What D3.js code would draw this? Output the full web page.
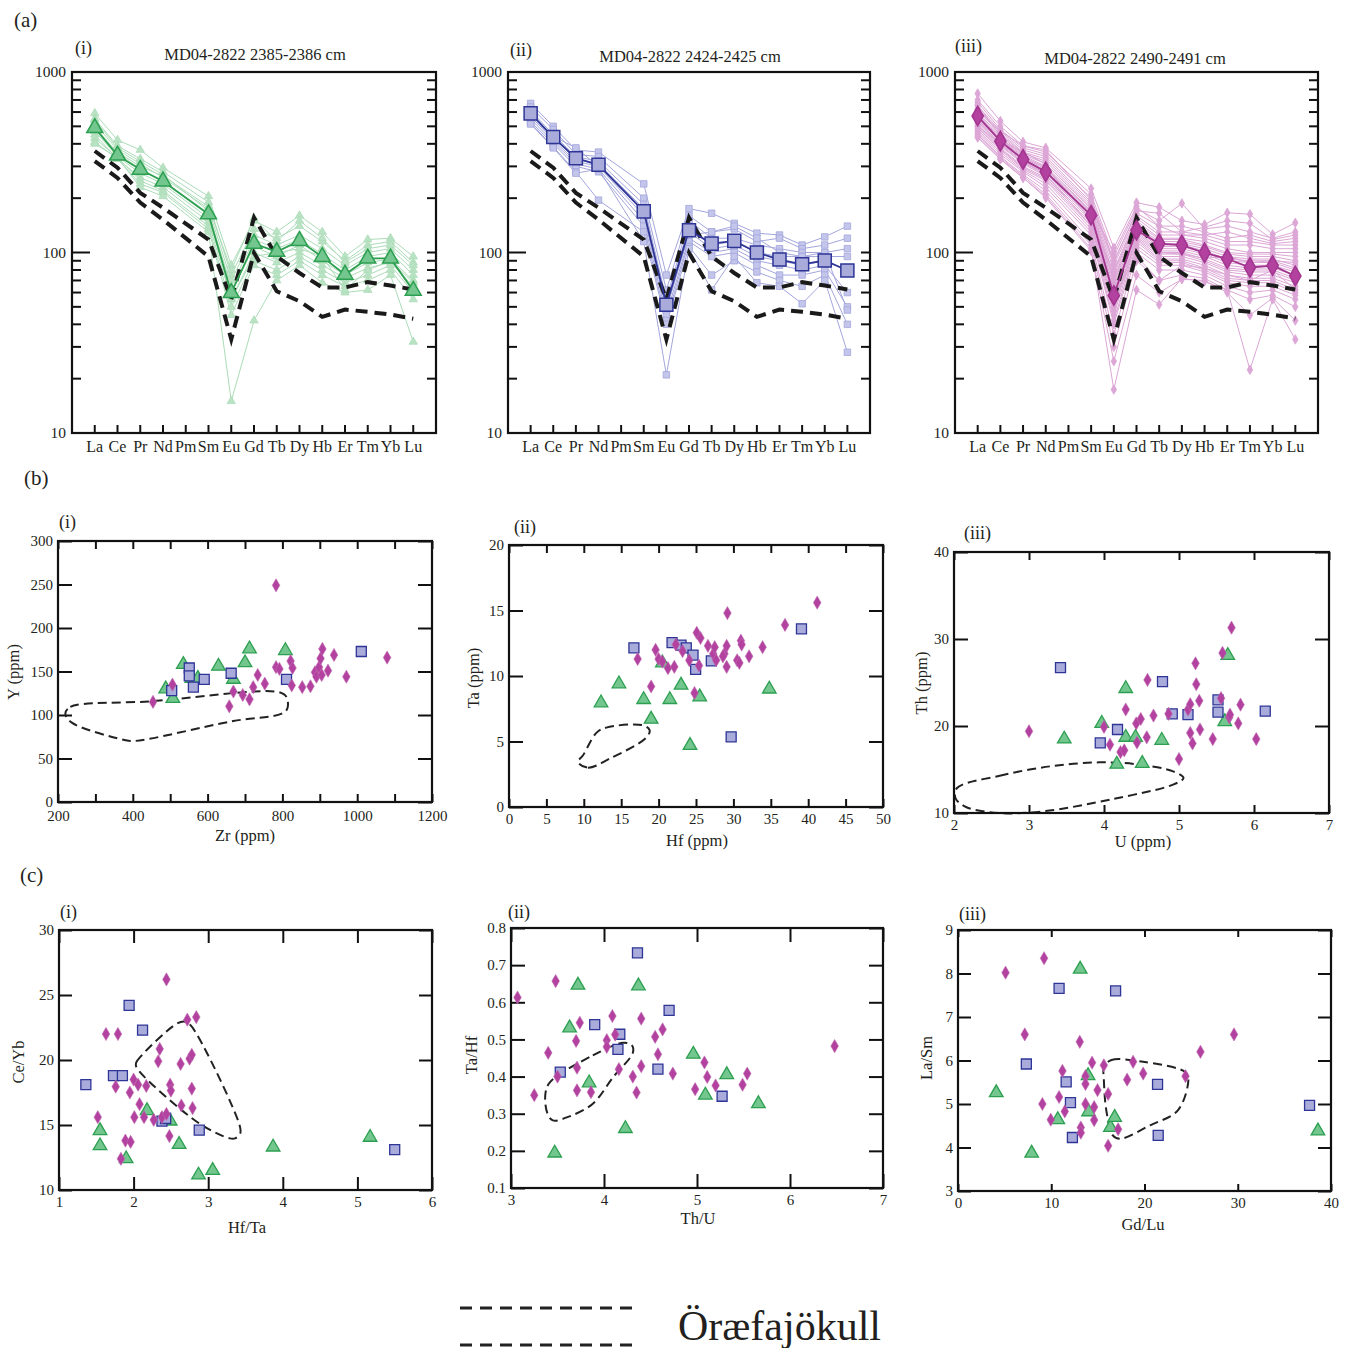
<!DOCTYPE html>
<html>
<head>
<meta charset="utf-8">
<script src="https://cdn.jsdelivr.net/npm/d3@7"></script>
<style>
  body { margin: 0; background: #fff; }
  svg text { font-family: "Liberation Serif", "DejaVu Serif", serif; fill: #231f20; }
</style>
</head>
<body>
<svg id="fig" width="1349" height="1348"></svg>
<script>
// ---------- data ----------
var REE = ["La","Ce","Pr","Nd","Pm","Sm","Eu","Gd","Tb","Dy","Hb","Er","Tm","Yb","Lu"];

// Öræfajökull envelope (chondrite normalised)
var oraeUpper = [365,295,214,177,null,118,55,156,95,77,64,64,68.5,65.6,62.4];
var oraeLower = [321,259,189,152,null,95,33,99.6,61,53.7,44,48.3,46.9,45.3,43];

// (a)(i) MD04-2822 2385-2386 cm
var greenMean = [490,345,288,248,null,163,59.7,112,101,116,94.6,75.5,92.7,92.7,61.5];
var greenShards = [
  [590,420,370,295,null,205,85,150,130,160,130,95,118,120,95],
  [550,390,330,280,null,190,75,135,120,140,115,90,110,115,88],
  [520,370,310,260,null,175,70,125,110,125,105,85,100,105,80],
  [500,355,290,250,null,165,65,118,105,118,98,80,95,100,75],
  [470,340,275,240,null,155,60,108,95,110,90,75,88,92,70],
  [450,330,260,230,null,148,55,100,88,100,85,72,82,88,65],
  [430,335,250,220,null,140,50,90,80,95,80,68,75,85,60],
  [410,330,240,215,null,135,45,85,75,90,75,65,70,80,55],
  [400,335,230,205,null,130,15,42,70,85,68,60,62,75,32],
  [480,360,300,265,null,180,80,155,115,150,120,88,105,110,85],
  [540,380,320,270,null,170,55,95,100,105,95,62,80,90,68]
];

// (a)(ii) MD04-2822 2424-2425 cm
var blueMean = [590,436,333,306,null,169,51.3,133,112,116,100,91.4,86,90.3,79.5];
var blueShards = [
  [670,500,370,360,null,240,75,175,165,145,128,125,110,122,140],
  [640,480,350,340,null,200,62,160,130,135,115,120,105,110,120],
  [610,450,340,320,null,185,55,150,120,120,110,105,100,100,105],
  [590,430,330,310,null,175,52,140,110,115,100,95,95,95,95],
  [570,420,320,300,null,160,48,130,105,110,95,90,85,90,80],
  [550,410,310,290,null,150,45,120,100,105,90,85,80,85,60],
  [530,400,300,280,null,140,42,115,95,100,85,75,75,80,50],
  [520,385,280,195,null,130,40,108,75,90,78,70,65,75,40],
  [515,380,275,290,null,115,21,105,62,95,68,65,52,70,28],
  [560,440,380,300,null,175,50,125,130,140,120,100,95,100,48]
];

// (a)(iii) MD04-2822 2490-2491 cm
var magMean = [570,414,328,280,null,161,57.8,133,112,110,99.6,92.3,82.6,84.7,74];
var magShards = [
  [760,535,410,380,null,226,106,189,178,150,143,166,163,126,146],
  [700,500,390,360,null,210,95,175,150,187,135,140,130,120,130],
  [680,480,380,350,null,200,90,165,140,140,130,120,125,115,120],
  [650,470,370,340,null,190,85,160,130,130,125,115,115,110,110],
  [630,460,360,330,null,185,80,155,125,125,120,110,110,105,105],
  [620,450,355,320,null,180,75,150,120,120,115,105,100,100,100],
  [600,440,350,310,null,175,72,145,118,118,110,100,98,98,95],
  [590,430,345,300,null,170,70,140,115,115,108,98,95,95,90],
  [580,425,340,295,null,168,68,138,112,112,105,95,92,92,85],
  [570,420,335,290,null,165,65,135,110,110,102,92,90,90,82],
  [560,415,330,285,null,162,62,132,108,108,100,90,88,88,80],
  [550,410,325,280,null,160,60,130,105,105,98,88,85,85,78],
  [540,400,320,275,null,158,58,128,102,102,95,85,82,82,75],
  [530,395,315,270,null,155,55,125,100,100,92,82,80,80,72],
  [520,390,310,265,null,150,52,122,98,98,90,80,78,78,70],
  [510,380,300,260,null,145,50,120,95,95,88,78,75,75,68],
  [500,375,295,255,null,140,48,118,92,92,85,75,72,72,65],
  [490,370,290,250,null,135,45,115,90,90,82,72,70,70,62],
  [480,360,285,240,null,130,42,110,88,88,80,70,68,68,60],
  [470,350,280,230,null,125,40,105,85,85,78,68,65,65,58],
  [460,340,270,220,null,115,35,100,80,80,75,65,60,62,55],
  [450,335,265,210,null,110,30,90,70,75,72,62,55,58,50],
  [440,330,260,201,null,102,25,75,60,71,70,60,45,56,42],
  [433,328,259,205,null,105,17.4,62,51.5,72,69,62,22.4,55,33],
  [610,470,390,370,null,195,88,170,165,130,138,150,145,118,125],
  [540,420,360,310,null,175,100,180,140,125,125,130,120,112,115],
  [500,400,330,300,null,150,78,150,100,98,93,95,88,90,88],
  [660,440,320,270,null,140,58,95,70,85,82,75,70,80,62]
];

// (b)(i) Zr vs Y
var zrY_green = [[488,130],[535,158],[507,119],[558,142],[574,142],[629,156],[669,141],[700,160],[712,176],[808,174]];
var zrY_blue = [[504,128],[551,154],[551,145],[562,132],[591,141],[663,148],[811,141],[1011,173]];
var zrY_mag = [[454,115],[506,135],[658,110],[669,127],[694,123],[712,118],[722,132],[734,146],[753,136],[783,249],
  [783,155],[792,153],[822,162],[825,134],[827,154],[853,132],[875,133],[887,149],[891,144],[898,155],[902,165],
  [905,146],[907,176],[922,151],[938,169],[971,144],[1080,166]];
var zrY_field = [[219.6,101.5],[232.9,109.2],[446.4,115.7],[789,126.4],[811,120.7],[813,107.3],[798,101.5],[669,93.1],[402,70.1],[375,71.6],[237,91.2]];

// (b)(ii) Hf vs Ta
var hfTa_green = [[12.3,7.95],[14.7,9.4],[18.0,8.2],[19.0,6.7],[20.5,11.0],[21.5,8.2],[23.0,9.3],[24.2,4.7],[25.5,8.4],[34.8,9.0]];
var hfTa_blue = [[16.7,12.15],[21.8,12.55],[23.0,12.35],[23.7,12.15],[24.6,11.6],[24.95,10.5],[27.05,11.15],[29.7,5.35],[39.1,13.6]];
var hfTa_mag = [[17.2,11.3],[19.0,9.2],[19.6,12.0],[20.0,11.3],[20.5,11.1],[21.25,10.6],[22.1,10.7],[22.3,12.4],[23.2,11.9],
  [24.1,11.2],[24.8,8.7],[25.1,13.3],[25.4,10.8],[25.6,12.9],[26.6,12.3],[27.3,11.7],[27.5,12.2],[27.7,11.2],[28.8,11.7],
  [29.1,12.3],[29.1,10.7],[29.2,14.8],[30.5,11.2],[30.8,11.0],[31.0,12.7],[31.1,12.4],[32.1,11.5],[33.9,12.2],[36.9,13.9],
  [41.2,15.6],[28.6,11.5]];
var hfTa_field = [[9.22,3.44],[10.56,3.0],[13.46,3.69],[18.36,5.3],[18.8,5.86],[17.9,6.24],[13.0,6.06],[11.68,5.66],[9.9,3.95]];

// (b)(iii) U vs Th
var uTh_green = [[3.47,18.5],[3.97,20.3],[4.17,15.6],[4.29,24.3],[4.29,18.7],[4.42,18.7],[4.51,15.7],[4.77,18.35],[5.61,20.5],[5.65,28.1]];
var uTh_blue = [[3.42,26.7],[3.95,18.05],[4.18,19.6],[4.78,25.1],[4.91,21.4],[5.12,21.3],[5.52,23.0],[5.52,21.6],[6.15,21.7]];
var uTh_mag = [[3.0,19.4],[4.0,19.9],[4.08,17.85],[4.22,17.0],[4.27,17.2],[4.29,21.9],[4.43,20.3],[4.44,18.1],[4.49,20.8],
  [4.57,18.7],[4.58,25.3],[4.66,21.2],[4.86,21.4],[5.0,16.2],[5.12,21.9],[5.15,22.5],[5.15,19.2],[5.18,18.0],[5.22,27.2],
  [5.23,24.8],[5.27,22.9],[5.28,19.6],[5.45,18.5],[5.56,23.2],[5.58,28.4],[5.67,21.0],[5.68,21.3],[5.70,31.3],[5.79,20.3],
  [5.82,22.45],[6.03,18.5]];
var uTh_field = [[2.04,12.87],[2.61,14.29],[3.28,15.36],[3.94,15.82],[4.48,15.56],[4.92,14.79],[5.06,14.02],[4.92,13.26],[4.12,11.61],[3.19,10.19],[2.61,10.0],[2.16,10.69],[2.02,11.72]];

// (c)(i) Hf/Ta vs Ce/Yb
var hfta_ceyb_green = [[1.55,14.56],[1.55,13.4],[1.9,12.4],[2.18,16.1],[2.49,15.3],[2.61,13.5],[2.87,11.15],[3.06,11.5],[3.87,13.3],[5.17,14.05]];
var hfta_ceyb_blue = [[1.36,18.1],[1.73,18.8],[1.85,18.8],[1.94,24.2],[2.12,22.3],[2.38,15.3],[2.43,15.5],[2.88,14.6],[5.5,13.1]];
var hfta_ceyb_mag = [[1.52,15.6],[1.63,22.0],[1.76,17.95],[1.79,22.0],[1.83,12.4],[1.89,13.8],[1.95,17.5],[1.96,13.7],[2.0,18.5],
  [2.01,15.6],[2.06,18.1],[2.08,16.6],[2.14,15.6],[2.17,18.0],[2.27,15.4],[2.33,19.9],[2.35,20.85],[2.38,15.6],[2.44,15.85],
  [2.44,26.2],[2.48,14.15],[2.49,18.1],[2.5,17.65],[2.63,19.7],[2.64,16.5],[2.72,23.1],[2.75,20.1],[2.78,20.4],[2.78,17.8],
  [2.79,16.3],[2.84,23.3]];
var hfta_ceyb_field = [[2.03,19.6],[2.04,19.87],[2.58,22.8],[2.69,22.95],[2.78,22.56],[3.42,15.0],[3.43,14.36],[3.36,13.97],[3.29,13.97],[2.89,15.08],[2.08,19.1]];

// (c)(ii) Th/U vs Ta/Hf
var thu_tahf_green = [[3.47,0.194],[3.63,0.531],[3.72,0.646],[3.84,0.383],[4.23,0.26],[4.37,0.644],[4.96,0.46],[5.09,0.35],[5.32,0.405],[5.66,0.327]];
var thu_tahf_blue = [[3.53,0.412],[3.9,0.54],[4.17,0.514],[4.15,0.473],[4.36,0.733],[4.58,0.42],[4.7,0.578],[5.27,0.347]];
var thu_tahf_mag = [[3.07,0.613],[3.25,0.35],[3.40,0.464],[3.48,0.657],[3.5,0.40],[3.70,0.496],[3.71,0.424],[3.71,0.363],[3.74,0.545],
  [3.86,0.358],[4.03,0.498],[4.03,0.48],[4.09,0.563],[4.12,0.513],[4.16,0.42],[4.31,0.40],[4.35,0.357],[4.40,0.556],[4.40,0.428],
  [4.55,0.507],[4.58,0.46],[4.63,0.527],[4.74,0.408],[4.98,0.366],[5.08,0.438],[5.11,0.399],[5.2,0.376],[5.49,0.378],[5.54,0.408],
  [6.48,0.482]];
var thu_tahf_field = [[3.42,0.385],[3.88,0.457],[4.21,0.491],[4.30,0.484],[4.31,0.464],[4.10,0.399],[3.88,0.327],[3.63,0.293],[3.45,0.282],[3.39,0.302],[3.37,0.354]];

// (c)(iii) Gd/Lu vs La/Sm
var gdlu_lasm_green = [[4.1,5.26],[7.9,3.87],[10.7,4.64],[13.1,8.1],[13.95,5.65],[14.0,4.82],[16.35,4.46],[16.8,4.69],[38.6,4.38]];
var gdlu_lasm_blue = [[7.33,5.92],[10.84,7.66],[11.6,5.51],[12.06,5.03],[12.27,4.23],[16.9,7.6],[21.4,5.45],[21.47,4.28],[37.7,4.97]];
var gdlu_lasm_mag = [[5.1,8.02],[7.16,6.6],[9.05,5.0],[9.23,8.35],[9.95,4.64],[10.84,5.16],[11.2,5.76],[11.45,4.83],[13.06,6.43],
  [13.17,4.46],[13.17,4.34],[13.67,5.64],[13.67,5.46],[13.67,5.0],[14.38,5.95],[14.6,4.93],[14.6,4.63],[14.96,5.32],[15.64,5.89],
  [16.1,5.23],[16.1,4.04],[17.17,4.42],[18.14,5.56],[18.78,5.97],[19.86,5.7],[24.4,5.64],[26.0,6.2],[29.6,6.6]];
var gdlu_lasm_field = [[15.63,5.85],[16.46,6.01],[19.86,5.97],[24.33,5.74],[24.7,5.59],[23.6,4.86],[20.6,4.51],[17.35,4.2],[16.6,4.28],[15.9,4.86],[15.63,5.62]];

// ---------- styles ----------
var styles = {
  green: { sym: d3.symbolTriangle, fill: "#72c68e", stroke: "#2c9f50", light: "#acdcb8", lightFill: "#b9e3c4" },
  blue:  { sym: d3.symbolSquare,   fill: "#a9abdb", stroke: "#2e3596", light: "#a3a6dc", lightFill: "#c3c5ea" },
  mag:   { sym: d3.symbolDiamond,  fill: "#b3419f", stroke: "#a2358f", light: "#dca6d6", lightFill: "#dca6d6" }
};

var svg = d3.select("#fig");

function label(x, y, txt, size, anchor, rot) {
  var t = svg.append("text").attr("x", x).attr("y", y).attr("font-size", size)
    .attr("text-anchor", anchor || "start").text(txt);
  if (rot) t.attr("transform", "rotate(-90," + x + "," + y + ")").attr("dominant-baseline", "middle");
  return t;
}

// ---------- (a) REE spider diagrams ----------
function reePanel(box, shards, mean, st, title, titleX, titleY, roman, romanX, romanY) {
  var g = svg.append("g");
  var x = d3.scalePoint().domain(REE).range([box[0], box[1]]).padding(1);
  var y = d3.scaleLog().domain([10, 1000]).range([box[3], box[2]]);
  // Pm is not measured: join Nd straight to Sm
  var pts = function(s) {
    return s.map(function(v, i) { return [REE[i], v]; }).filter(function(p) { return p[1] != null; });
  };
  var line = function(s) {
    return d3.line().x(function(p) { return x(p[0]); }).y(function(p) { return y(p[1]); })(pts(s));
  };

  var smallSize = st.sym === d3.symbolTriangle ? 30 : (st.sym === d3.symbolSquare ? 42 : 26);
  var bigSize = st.sym === d3.symbolTriangle ? 110 : (st.sym === d3.symbolSquare ? 170 : 110);

  // individual shards
  shards.forEach(function(s) {
    g.append("path").attr("d", line(s)).attr("fill", "none").attr("stroke", st.light).attr("stroke-width", 1);
  });
  shards.forEach(function(s) {
    pts(s).forEach(function(p) {
      g.append("path").attr("d", d3.symbol().type(st.sym).size(smallSize)())
        .attr("transform", "translate(" + x(p[0]) + "," + y(p[1]) + ")")
        .attr("fill", st.lightFill).attr("stroke", st.light).attr("stroke-width", 0.8);
    });
  });

  // Öræfajökull envelope
  [oraeUpper, oraeLower].forEach(function(s) {
    g.append("path").attr("d", line(s)).attr("fill", "none").attr("stroke", "#1a1a1a")
      .attr("stroke-width", 4).attr("stroke-dasharray", "12,7");
  });

  // mean
  g.append("path").attr("d", line(mean)).attr("fill", "none").attr("stroke", st.stroke).attr("stroke-width", 1.8);
  pts(mean).forEach(function(p) {
    g.append("path").attr("d", d3.symbol().type(st.sym).size(bigSize)())
      .attr("transform", "translate(" + x(p[0]) + "," + y(p[1]) + ")")
      .attr("fill", st.fill).attr("stroke", st.stroke).attr("stroke-width", 1.5);
  });

  // frame
  g.append("rect").attr("x", box[0]).attr("y", box[2]).attr("width", box[1] - box[0]).attr("height", box[3] - box[2])
    .attr("fill", "none").attr("stroke", "#111").attr("stroke-width", 2.2);

  // log ticks
  var ticks = [];
  [10, 100].forEach(function(d) { for (var k = 1; k <= 9; k++) ticks.push(d * k); });
  ticks.push(1000);
  ticks.forEach(function(t) {
    var major = (t === 10 || t === 100 || t === 1000);
    g.append("line").attr("x1", box[0]).attr("x2", box[0] + (major ? 18 : 9))
      .attr("y1", y(t)).attr("y2", y(t)).attr("stroke", "#111").attr("stroke-width", 2);
    g.append("line").attr("x1", box[1]).attr("x2", box[1] - 9)
      .attr("y1", y(t)).attr("y2", y(t)).attr("stroke", "#111").attr("stroke-width", 2);
    if (major) label(box[0] - 6, y(t) + 5, String(t), 15.5, "end");
  });
  REE.forEach(function(e) {
    g.append("line").attr("x1", x(e)).attr("x2", x(e)).attr("y1", box[3]).attr("y2", box[3] - 8)
      .attr("stroke", "#111").attr("stroke-width", 2);
    label(x(e), box[3] + 19, e, 16, "middle");
  });

  label(titleX, titleY, title, 16.5, "middle");
  label(romanX, romanY, roman, 18, "start");
}

reePanel([72, 436, 72, 433], greenShards, greenMean, styles.green, "MD04-2822 2385-2386 cm", 255, 60, "(i)", 75, 54);
reePanel([508, 870, 72, 433], blueShards, blueMean, styles.blue, "MD04-2822 2424-2425 cm", 690, 62, "(ii)", 510, 56);
reePanel([955, 1318, 72, 433], magShards, magMean, styles.mag, "MD04-2822 2490-2491 cm", 1135, 64, "(iii)", 955, 52);

// ---------- (b), (c) scatter plots ----------
function scatterPanel(c) {
  var g = svg.append("g");
  var x = d3.scaleLinear().domain(c.xd).range([c.box[0], c.box[1]]);
  var y = d3.scaleLinear().domain(c.yd).range([c.box[3], c.box[2]]);

  var ax = function(a) {
    a.select(".domain").remove();
    a.selectAll(".tick line").attr("stroke", "#111").attr("stroke-width", 2);
    a.selectAll(".tick text").attr("font-size", 15).attr("fill", "#231f20");
  };
  g.append("g").attr("transform", "translate(0," + c.box[3] + ")")
    .call(d3.axisBottom(x).tickValues(c.xt).tickSizeInner(-c.lx).tickSizeOuter(0).tickPadding(c.xp || 6).tickFormat(c.xf)).call(ax);
  g.append("g").attr("transform", "translate(0," + c.box[2] + ")")
    .call(d3.axisTop(x).tickValues(c.xt).tickSizeInner(-c.lx).tickSizeOuter(0).tickFormat("")).call(ax);
  g.append("g").attr("transform", "translate(" + c.box[0] + ",0)")
    .call(d3.axisLeft(y).tickValues(c.yt).tickSizeInner(-c.ly).tickSizeOuter(0).tickPadding(5).tickFormat(c.yf)).call(ax);
  g.append("g").attr("transform", "translate(" + c.box[1] + ",0)")
    .call(d3.axisRight(y).tickValues(c.yt).tickSizeInner(-c.ly).tickSizeOuter(0).tickFormat("")).call(ax);
  g.selectAll("text").attr("font-family", "Liberation Serif, serif");

  // Öræfajökull field
  g.append("path")
    .attr("d", d3.line().curve(d3.curveCatmullRomClosed.alpha(0.5)).x(function(d) { return x(d[0]); }).y(function(d) { return y(d[1]); })(c.field))
    .attr("fill", "none").attr("stroke", "#222").attr("stroke-width", 2).attr("stroke-dasharray", "9,5");

  var groups = [[c.green, styles.green, 80], [c.blue, styles.blue, 100], [c.mag, styles.mag, 50]];
  groups.forEach(function(gr) {
    g.selectAll(null).data(gr[0]).enter().append("path")
      .attr("d", d3.symbol().type(gr[1].sym).size(gr[2]))
      .attr("transform", function(d) { return "translate(" + x(d[0]) + "," + y(d[1]) + ")"; })
      .attr("fill", gr[1].fill)
      .attr("stroke", gr[1].sym === d3.symbolDiamond ? "#c06bb1" : gr[1].stroke)
      .attr("stroke-width", gr[1].sym === d3.symbolDiamond ? 0.6 : 1.3);
  });

  g.append("rect").attr("x", c.box[0]).attr("y", c.box[2]).attr("width", c.box[1] - c.box[0]).attr("height", c.box[3] - c.box[2])
    .attr("fill", "none").attr("stroke", "#111").attr("stroke-width", 2.2);

  label(c.xl[1], c.xl[2], c.xl[0], 16.5, "middle");
  label(c.yl[1], c.yl[2], c.yl[0], 16.5, "middle", true);
  label(c.rn[1], c.rn[2], c.rn[0], 18, "start");
}

var f0 = d3.format("d");
function every(n) { return function(d) { return Math.round(d) % n === 0 ? String(d) : ""; }; }

scatterPanel({ box: [58, 432, 541, 802], xd: [200, 1200], yd: [0, 300],
  xt: d3.range(200, 1201, 100), yt: d3.range(0, 301, 50), xf: every(200), yf: f0, lx: 8, ly: 14, xp: 8,
  green: zrY_green, blue: zrY_blue, mag: zrY_mag, field: zrY_field,
  xl: ["Zr (ppm)", 245, 841], yl: ["Y (ppm)", 15, 672], rn: ["(i)", 59, 528] });

scatterPanel({ box: [509, 883, 545, 807], xd: [0, 50], yd: [0, 20],
  xt: d3.range(0, 51, 5), yt: d3.range(0, 21, 5), xf: f0, yf: f0, lx: 8, ly: 14,
  green: hfTa_green, blue: hfTa_blue, mag: hfTa_mag, field: hfTa_field,
  xl: ["Hf (ppm)", 697, 846], yl: ["Ta (ppm)", 475, 678], rn: ["(ii)", 514, 533] });

scatterPanel({ box: [954, 1329, 552, 813], xd: [2, 7], yd: [10, 40],
  xt: d3.range(2, 8, 1), yt: d3.range(10, 41, 10), xf: f0, yf: f0, lx: 8, ly: 14,
  green: uTh_green, blue: uTh_blue, mag: uTh_mag, field: uTh_field,
  xl: ["U (ppm)", 1143, 847], yl: ["Th (ppm)", 923, 683], rn: ["(iii)", 964, 539] });

scatterPanel({ box: [59, 432, 930, 1190], xd: [1, 6], yd: [10, 30],
  xt: d3.range(1, 7, 1), yt: d3.range(10, 31, 5), xf: f0, yf: f0, lx: 13, ly: 13,
  green: hfta_ceyb_green, blue: hfta_ceyb_blue, mag: hfta_ceyb_mag, field: hfta_ceyb_field,
  xl: ["Hf/Ta", 247, 1233], yl: ["Ce/Yb", 20, 1062], rn: ["(i)", 60, 918] });

scatterPanel({ box: [511, 883, 928, 1188], xd: [3, 7], yd: [0.1, 0.8],
  xt: d3.range(3, 8, 1), yt: [0.1,0.2,0.3,0.4,0.5,0.6,0.7,0.8], xf: f0, yf: d3.format(".1f"), lx: 14, ly: 14,
  green: thu_tahf_green, blue: thu_tahf_blue, mag: thu_tahf_mag, field: thu_tahf_field,
  xl: ["Th/U", 698, 1224], yl: ["Ta/Hf", 473, 1055], rn: ["(ii)", 508, 918] });

scatterPanel({ box: [958, 1331, 930, 1191], xd: [0, 40], yd: [3, 9],
  xt: d3.range(0, 41, 10), yt: d3.range(3, 10, 1), xf: f0, yf: f0, lx: 7, ly: 13,
  green: gdlu_lasm_green, blue: gdlu_lasm_blue, mag: gdlu_lasm_mag, field: gdlu_lasm_field,
  xl: ["Gd/Lu", 1143, 1230], yl: ["La/Sm", 928, 1058], rn: ["(iii)", 959, 920] });

// panel letters
label(14, 27, "(a)", 21, "start");
label(24, 485, "(b)", 21, "start");
label(20, 882, "(c)", 21, "start");

// legend
[1308, 1345].forEach(function(yy) {
  svg.append("line").attr("x1", 460).attr("x2", 636).attr("y1", yy).attr("y2", yy)
    .attr("stroke", "#222").attr("stroke-width", 3).attr("stroke-dasharray", "12,8");
});
label(678, 1340, "Öræfajökull", 42, "start");
</script>
</body>
</html>
